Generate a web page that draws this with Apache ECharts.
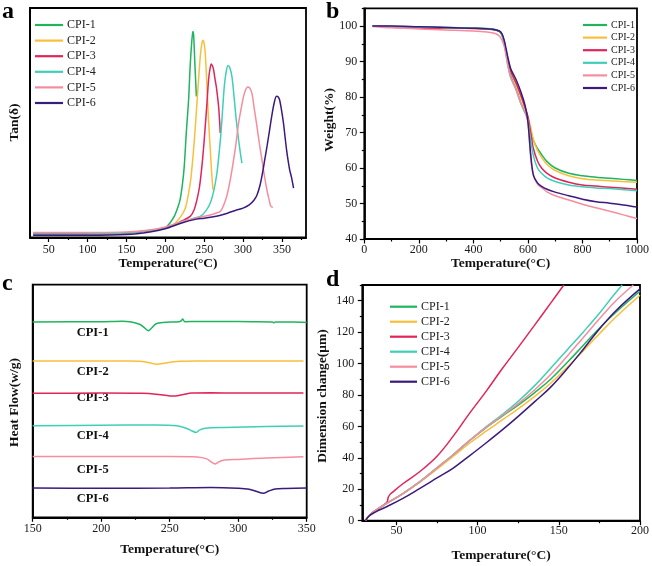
<!DOCTYPE html>
<html>
<head>
<meta charset="utf-8">
<script src="https://cdn.jsdelivr.net/npm/echarts@6/dist/echarts.min.js"></script>
<style>
html,body{margin:0;padding:0;background:#fff;}
#c{width:652px;height:566px;}
</style>
</head>
<body>
<div id="c"></div>
<script>
const names = ['CPI-1','CPI-2','CPI-3','CPI-4','CPI-5','CPI-6'];
const colors = ['#1fb45e','#f9bf3b','#e1245a','#3fcfb7','#f58d9e','#3b1a7d'];

// Panel a: DMA tan(delta) vs temperature (arbitrary units 0-100)
const tanCPI1 = [[30,1.5],[60,1.5],[100,1.6],[150,2.0],[180,3.0],[200,4.3],[206,6.3],[212,9.5],[216,13],[219,16.4],[222,23],[224.4,31],[227,45.5],[230,60],[232,74.6],[234,85],[235.5,89.8],[236.5,88],[238.2,74.6],[240,61.5]];
const tanCPI2 = [[30,1.5],[60,1.5],[100,1.6],[150,2.0],[180,3.0],[200,4.3],[210,5.5],[220,9.2],[226,13],[230,19.3],[233,26],[236.4,38.2],[239,50],[241.6,62.9],[245,78.9],[247,84.5],[248.5,85.9],[250,84.5],[251.4,80.4],[253,70],[254.4,60],[256,49],[257.9,38.2],[259.5,29],[261.3,20.8]];
const tanCPI3 = [[30,1.5],[60,1.5],[100,1.6],[150,2.0],[180,3.0],[200,4.3],[210,5.3],[220,7.0],[232,9.2],[237,12],[240.7,16.4],[244,22],[247.1,31],[249.5,40],[251.4,48.4],[253.5,58],[255.7,68.8],[257.5,73.5],[259.2,75.6],[261,74.5],[262.1,73.1],[264,69],[265.6,65.8],[267,62],[268.6,57.1],[270,50],[270.7,45.5]];
const tanCPI4 = [[30,1.5],[60,1.5],[100,1.6],[150,2.0],[180,3.0],[200,4.3],[210,5.3],[225,7.2],[238,8.5],[245,9.2],[252,11.5],[257.9,15],[262.5,20.5],[266.4,28],[269,36],[271.6,45.5],[274,57],[275.9,65.8],[278,71.5],[280.6,75],[283,74],[285.7,70.2],[288,63],[290,55.7],[292,49],[294.3,42.6],[296.5,37],[298.6,32.4]];
const tanCPI5 = [[30,2.2],[100,2.2],[150,2.4],[180,3.3],[200,4.6],[220,6.8],[240,8.5],[255,9.6],[265,10.6],[270.7,11.3],[275,14],[279,17.9],[283.5,25],[287.9,33.9],[291,41],[294.3,49.9],[297.5,56],[300.7,61.5],[303.5,64.5],[305.9,65.6],[308.5,65.2],[311.4,62.9],[314.5,56],[317.9,48.4],[321,41],[324.3,33.9],[327.5,27],[330.7,20.8],[333.5,16.5],[335.9,13.5],[338.4,13.2]];
const tanCPI6 = [[30,1.0],[100,1.0],[150,1.3],[180,2.4],[200,3.8],[220,6.2],[240,8.0],[250,8.4],[260,8.9],[270,9.6],[280,10.6],[290,11.8],[300,12.8],[308,14.2],[314,16.2],[318,18.5],[322,23],[325,28],[328,34],[331,40],[334,46.5],[337,53],[340,58.5],[343,61.5],[345,61.3],[347,60],[349.5,55.5],[352,49.9],[354,44],[356,38.2],[358,33.5],[360,29.5],[362.5,26],[365,21.5]];

// Panel b: TGA weight (%)
const tgaCPI1 = [[30,100],[100,99.9],[200,99.7],[300,99.6],[400,99.4],[470,99.2],[495,98.6],[505,97.6],[513,95.5],[520,92.5],[527,89.2],[537,86],[556,82.3],[574,78.3],[590,75.5],[600,74],[610,70.5],[620,67.8],[635,65.5],[650,63.8],[670,61.8],[700,60],[750,58.5],[800,57.8],[850,57.4],[900,57.1],[950,56.8],[1000,56.5]];
const tgaCPI2 = [[30,100],[200,99.6],[400,99.3],[470,99.0],[495,98.4],[505,97.4],[513,95.5],[520,92.8],[527,90.2],[537,87.3],[556,83.5],[574,80],[590,76.5],[600,74.5],[610,71.5],[620,68],[635,65],[650,63],[670,61],[700,59.3],[750,57.8],[800,57],[850,56.6],[900,56.4],[1000,56]];
const tgaCPI3 = [[30,100],[200,99.5],[250,99.3],[300,99.5],[400,99.3],[470,99.0],[495,98.5],[505,97.5],[513,95.5],[520,92.8],[527,90.2],[537,87.3],[556,84],[574,80.5],[590,77],[600,74.5],[610,70],[620,65.5],[635,62],[650,60],[670,58.5],[700,57.2],[750,56],[800,55.2],[850,54.9],[900,54.6],[1000,54]];
const tgaCPI4 = [[30,100],[200,99.7],[400,99.4],[470,99.1],[495,98.5],[505,97.4],[513,95.3],[520,92.2],[527,88.8],[537,85.5],[556,82.2],[574,78.3],[590,75.5],[600,73.5],[610,68],[620,63.5],[635,60],[650,58.5],[670,57.2],[700,56.2],[750,55.2],[800,54.7],[850,54.4],[900,54.2],[1000,53.6]];
const tgaCPI5 = [[30,99.9],[100,99.5],[200,99.2],[300,98.9],[400,98.6],[450,98.3],[480,97.9],[495,97.2],[505,96],[513,94.3],[520,91.6],[527,88.6],[537,85.5],[556,82.2],[574,78.3],[590,75.8],[600,73],[610,63],[620,58],[635,55.5],[650,54.5],[670,53.3],[700,52.2],[750,51],[800,49.8],[850,48.8],[900,47.8],[950,46.8],[1000,45.8]];
const tgaCPI6 = [[30,100],[100,100],[200,99.8],[300,99.6],[400,99.4],[470,99.1],[495,98.6],[505,97.8],[513,96],[520,93.6],[527,91],[537,88],[556,85],[574,81.5],[590,77.5],[600,73],[610,64],[620,58],[635,55.8],[650,54.8],[670,54],[700,53.2],[750,52.2],[800,51.2],[850,50.5],[900,50.1],[950,49.6],[1000,49]];

// Panel c: DSC heat flow (offset curves, arbitrary units 0-100)
const dscCPI1 = [[150,84],[200,84.1],[215,84.3],[222,84],[228,83],[231,81.8],[234.4,80.2],[237,81.5],[240,83.2],[245,83.8],[255,84],[258,84.3],[259.5,85.2],[261,84.1],[270,84.2],[290,84.2],[310,84.1],[325,84],[326,83.6],[327,84],[340,84],[350,83.8]];
const dscCPI2 = [[150,67.2],[220,67.2],[230,67],[236,66.3],[240.5,65.8],[246,66.2],[255,67],[270,67.2],[347.6,67.2]];
const dscCPI3 = [[150,53.3],[200,53.4],[230,53.3],[242,52.8],[250,52.2],[254,52.2],[260,52.8],[266,53.4],[280,53.5],[300,53.4],[347.6,53.4]];
const dscCPI4 = [[150,39.4],[200,39.6],[240,39.7],[255,39.4],[262,38.3],[266,37.2],[269.2,36.5],[272,37.6],[276,38.3],[290,38.6],[320,39.0],[347.6,39.3]];
const dscCPI5 = [[150,26.1],[200,26.1],[250,26.1],[270,25.9],[277,25.1],[280.5,23.7],[283,22.9],[286,23.9],[290,24.6],[300,24.9],[320,25.5],[347.6,26.0]];
const dscCPI6 = [[150,12.6],[200,12.5],[250,12.6],[280,12.8],[300,12.5],[308,12.1],[313,11.2],[318.4,10.3],[322,11.2],[327,12.2],[335,12.4],[350,12.6]];

// Panel d: TMA dimension change (um)
const tmaCPI1 = [[31,0],[33,3],[37,6.3],[44,11],[54,17.3],[64.5,24.9],[75,33.6],[85,42],[95,51],[105,59],[115,66.4],[125,73.6],[135,81.4],[145,90],[155,100.5],[165,111.5],[175,122.5],[185,132.5],[200,146]];
const tmaCPI2 = [[31,0],[33,3],[37,6.3],[44,11],[54,17.3],[64.5,24.6],[75,32.8],[85,41],[95,49.3],[105,56.8],[115,64],[125,71.2],[135,79],[145,87.5],[155,97.5],[165,108],[175,119],[185,129.5],[200,143.5]];
const tmaCPI3 = [[31,0],[33,3],[37,6.5],[44,11.5],[45,15],[46,16.6],[47.5,18],[54,23.5],[64.5,31.3],[75,41],[85,53.8],[95,68.3],[105,82],[115,96.5],[125,110.3],[135,124.3],[145,138.5],[153.1,150]];
const tmaCPI4 = [[31,0],[33,3],[37,6.3],[44,11],[54,17.3],[64.5,24.9],[75,33.6],[85,42],[95,50.8],[105,59.5],[115,67.4],[125,76],[135,85.8],[145,97],[155,108.5],[165,120],[175,132],[183,142.5],[189,150]];
const tmaCPI5 = [[31,0],[33,3],[37,6.3],[44,11],[54,17.3],[64.5,24.9],[75,33.6],[85,42],[95,51],[105,59.2],[115,66.8],[125,74.5],[135,83.2],[145,93],[155,104.5],[165,116.5],[175,128.5],[185,139.8],[195.9,150]];
const tmaCPI6 = [[31,0],[33,2.8],[37,5.5],[44,8.9],[54,14.2],[64.5,20.6],[75,27.2],[85,33.5],[95,41.3],[105,49.3],[115,57.6],[125,66.4],[135,75.6],[145,85],[155,96.5],[165,109],[175,122],[185,133.5],[200,147.5]];

// Tick values
const ticksA = [50,100,150,200,250,300,350];
const minorA = [75,125,175,225,275,325,375];
const ticksB = [0,200,400,600,800,1000];
const minorB = [100,300,500,700,900];
const ticksBy = [40,50,60,70,80,90,100];
const minorBy = [45,55,65,75,85,95,105];
const ticksC = [150,200,250,300,350];
const minorC = [175,225,275,325];
const ticksD = [50,100,150,200];
const minorD = [75,125,175];
const ticksDy = [0,20,40,60,80,100,120,140];
const minorDy = [10,30,50,70,90,110,130,150];
const dscLabels = names;

const FF = '"Liberation Serif","Times New Roman",serif';
const panels = [
  [tanCPI1,tanCPI2,tanCPI3,tanCPI4,tanCPI5,tanCPI6],
  [tgaCPI1,tgaCPI2,tgaCPI3,tgaCPI4,tgaCPI5,tgaCPI6],
  [dscCPI1,dscCPI2,dscCPI3,dscCPI4,dscCPI5,dscCPI6],
  [tmaCPI1,tmaCPI2,tmaCPI3,tmaCPI4,tmaCPI5,tmaCPI6]
];
const smoothBy = [0.3, 0.3, 0.3, 0.4];

const chart = echarts.init(document.getElementById('c'), null, {renderer:'canvas'});

const grids = [
  {left:30, top:8, width:276, height:229.5},
  {left:364.3, top:8.3, width:274, height:230.7},
  {left:32.7, top:284.7, width:274, height:232.6},
  {left:362.3, top:285, width:279.4, height:235.7}
].map(g => Object.assign({show:true, borderColor:'#000', borderWidth:1.8, backgroundColor:'transparent'}, g));

const axisLine = {show:true, onZero:false, lineStyle:{color:'#000', width:1.8}};
const plain = v => String(v);
const lbl = (extra) => Object.assign({color:'#1a1a1a', fontFamily:FF, fontSize:12, formatter:plain}, extra);
const tick = (vals, len) => ({show:true, inside:false, length:len, customValues:vals, lineStyle:{color:'#000', width:1.2}});
const xname = (gap) => ({name:'Temperature(°C)', nameLocation:'middle', nameGap:gap,
  nameTextStyle:{fontFamily:FF, fontSize:13.5, fontWeight:'bold', color:'#111'}});

const minorAxis = (grid, min, max, vals, pos) => ({type:'value', gridIndex:grid, min:min, max:max, position:pos||'bottom',
  axisLine:{show:false}, axisLabel:{show:false}, splitLine:{show:false},
  axisTick:tick(vals, 2.5)});

const xAxes = [
  Object.assign({type:'value', gridIndex:0, min:26, max:381, axisLine, splitLine:{show:false},
    axisTick:tick(ticksA,4.5), axisLabel:lbl({customValues:ticksA, margin:6})}, xname(16)),
  Object.assign({type:'value', gridIndex:1, min:0, max:1000, axisLine, splitLine:{show:false},
    axisTick:tick(ticksB,4.5), axisLabel:lbl({customValues:ticksB, margin:5})}, xname(18)),
  Object.assign({type:'value', gridIndex:2, min:150, max:350, axisLine, splitLine:{show:false},
    axisTick:tick(ticksC,4.5), axisLabel:lbl({customValues:ticksC, margin:6})}, xname(25)),
  Object.assign({type:'value', gridIndex:3, min:29, max:200, axisLine, splitLine:{show:false},
    axisTick:tick(ticksD,4.5), axisLabel:lbl({customValues:ticksD, margin:4})}, xname(28)),
  minorAxis(0, 26, 381, minorA),
  minorAxis(1, 0, 1000, minorB),
  minorAxis(2, 150, 350, minorC),
  minorAxis(3, 29, 200, minorD)
];

const yAxes = [
  {type:'value', gridIndex:0, min:0, max:100, axisLine, splitLine:{show:false}, axisTick:{show:false}, axisLabel:{show:false}},
  {type:'value', gridIndex:1, min:40, max:105, axisLine, splitLine:{show:false},
    axisTick:tick(ticksBy,4.5), axisLabel:lbl({customValues:ticksBy, margin:7})},
  {type:'value', gridIndex:2, min:0, max:100, axisLine, splitLine:{show:false}, axisTick:{show:false}, axisLabel:{show:false}},
  {type:'value', gridIndex:3, min:0, max:150, axisLine, splitLine:{show:false},
    axisTick:tick(ticksDy,4.5), axisLabel:lbl({customValues:ticksDy, margin:8})},
  minorAxis(1, 40, 105, minorBy, 'left'),
  minorAxis(3, 0, 150, minorDy, 'left')
];

const series = [];
panels.forEach((p, gi) => {
  p.forEach((d, si) => {
    series.push({
      type:'line', name:names[si], xAxisIndex:gi, yAxisIndex:gi, data:d,
      showSymbol:false, symbol:'none', smooth:smoothBy[gi],
      lineStyle:{color:colors[si], width:1.5}, itemStyle:{color:colors[si]},
      emphasis:{disabled:true}, animation:false, clip:true
    });
  });
});

const legendBase = (left, top, iw, fs, gap) => ({
  orient:'vertical', left:left, top:top, icon:'rect', itemWidth:iw, itemHeight:2.2,
  itemGap:gap, data:names, selectedMode:false, padding:0,
  textStyle:{fontFamily:FF, fontSize:fs, color:'#222', lineHeight:fs, padding:[0,0,0,-1]}
});

const letters = [['a',2,11.5],['b',326,11.5],['c',2,284],['d',326,280]];
const yTitles = [['Tan(δ)',15,122.5],['Weight(%)',330,120],['Heat Flow(w/g)',15,402.5],['Dimension change(μm)',323,396]];
const dscLabelY = [332.5,372,397.3,435.7,469.3,498.3];

const graphic = [];
letters.forEach(l => graphic.push({type:'text', left:l[1], top:l[2]-12, style:{text:l[0], font:'bold 24px '+FF, fill:'#000'}}));
yTitles.forEach(t => graphic.push({type:'text', x:t[1], y:t[2], rotation:Math.PI/2,
  style:{text:t[0], font:'bold 13.5px '+FF, fill:'#111', align:'center', verticalAlign:'middle'}}));
dscLabels.forEach((n,i) => graphic.push({type:'text', x:76.7, y:dscLabelY[i],
  style:{text:n, font:'bold 12.5px '+FF, fill:'#111', align:'left', verticalAlign:'middle'}}));

chart.setOption({
  animation:false,
  backgroundColor:'#fff',
  grid:grids,
  xAxis:xAxes,
  yAxis:yAxes,
  legend:[
    legendBase(35, 19, 28, 12, 3.6),
    legendBase(583, 20, 24, 10, 2.6),
    legendBase(390, 300.7, 27, 12, 3)
  ],
  series:series,
  graphic:graphic
});
</script>
</body>
</html>
